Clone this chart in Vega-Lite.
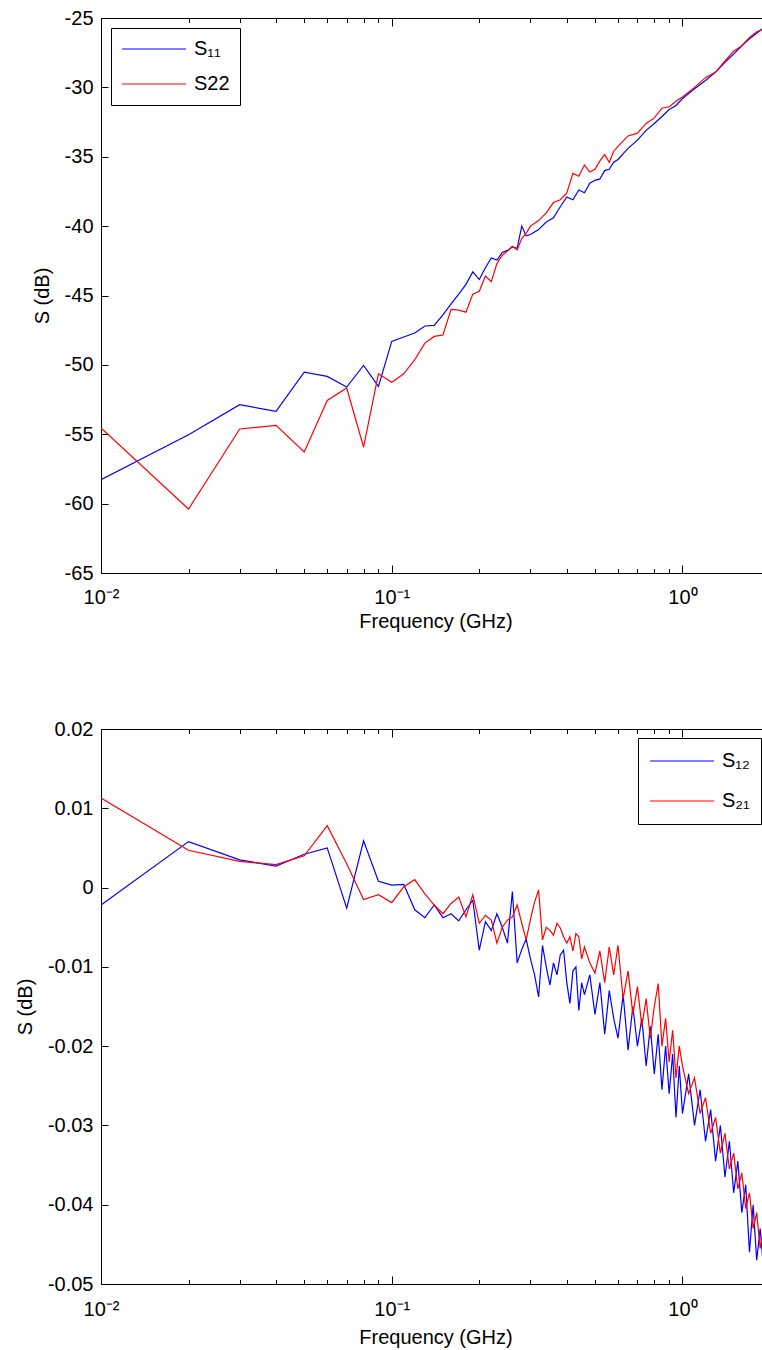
{
  "$schema": "https://vega.github.io/schema/vega-lite/v6.json",
  "padding": {"left": 15, "top": 8, "right": 0, "bottom": 0},
  "background": "white",
  "spacing": 156,
  "bounds": "flush",
  "resolve": {"scale": {"color": "independent"}, "legend": {"color": "independent"}},
  "config": {
    "font": "Liberation Sans",
    "view": {"stroke": null},
    "axis": {"domainColor": "#000", "tickColor": "#000", "labelColor": "#000", "titleColor": "#000", "labelFontSize": 20, "titleFontSize": 20, "titleFontWeight": "normal", "labelFont": "Liberation Sans", "titleFont": "Liberation Sans", "grid": false, "domainWidth": 1, "tickWidth": 1, "labelFlush": false, "labelOverlap": false, "labelBound": false},
    "legend": {"title": null, "strokeColor": "#000", "fillColor": "#fff", "symbolType": "stroke", "symbolSize": 4096, "symbolStrokeWidth": 1.2, "labelFontSize": 20, "labelOffset": 7, "labelColor": "#000", "labelFont": "Liberation Sans"}
  },
  "datasets": {
    "top": [
      {"f": 0.01, "S₁₁": -58.27, "S22": -54.55},
      {"f": 0.02, "S₁₁": -55.03, "S22": -60.39},
      {"f": 0.03, "S₁₁": -52.87, "S22": -54.62},
      {"f": 0.04, "S₁₁": -53.35, "S22": -54.36},
      {"f": 0.05, "S₁₁": -50.52, "S22": -56.28},
      {"f": 0.06, "S₁₁": -50.83, "S22": -52.56},
      {"f": 0.07, "S₁₁": -51.6, "S22": -51.67},
      {"f": 0.08, "S₁₁": -50.04, "S22": -55.92},
      {"f": 0.09, "S₁₁": -51.55, "S22": -50.64},
      {"f": 0.10, "S₁₁": -48.31, "S22": -51.26},
      {"f": 0.11, "S₁₁": -47.99, "S22": -50.64},
      {"f": 0.12, "S₁₁": -47.7, "S22": -49.63},
      {"f": 0.13, "S₁₁": -47.2, "S22": -48.43},
      {"f": 0.14, "S₁₁": -47.15, "S22": -47.95},
      {"f": 0.15, "S₁₁": -46.4, "S22": -47.85},
      {"f": 0.16, "S₁₁": -45.6, "S22": -46.0},
      {"f": 0.17, "S₁₁": -44.9, "S22": -46.05},
      {"f": 0.18, "S₁₁": -44.2, "S22": -46.2},
      {"f": 0.19, "S₁₁": -43.3, "S22": -44.9},
      {"f": 0.20, "S₁₁": -43.85, "S22": -44.7},
      {"f": 0.21, "S₁₁": -43.0, "S22": -43.6},
      {"f": 0.22, "S₁₁": -42.3, "S22": -44.0},
      {"f": 0.23, "S₁₁": -42.45, "S22": -42.7},
      {"f": 0.24, "S₁₁": -41.9, "S22": -42.1},
      {"f": 0.25, "S₁₁": -41.75, "S22": -41.8},
      {"f": 0.26, "S₁₁": -41.5, "S22": -41.45},
      {"f": 0.27, "S₁₁": -41.6, "S22": -41.7},
      {"f": 0.28, "S₁₁": -40.0, "S22": -40.9},
      {"f": 0.29, "S₁₁": -40.7, "S22": -40.5},
      {"f": 0.30, "S₁₁": -40.6, "S22": -40.0},
      {"f": 0.32, "S₁₁": -40.25, "S22": -39.6},
      {"f": 0.34, "S₁₁": -39.7, "S22": -39.05},
      {"f": 0.36, "S₁₁": -39.4, "S22": -38.3},
      {"f": 0.38, "S₁₁": -38.6, "S22": -38.1},
      {"f": 0.40, "S₁₁": -37.9, "S22": -37.6},
      {"f": 0.42, "S₁₁": -38.1, "S22": -36.2},
      {"f": 0.44, "S₁₁": -37.4, "S22": -36.4},
      {"f": 0.46, "S₁₁": -37.6, "S22": -35.6},
      {"f": 0.48, "S₁₁": -36.9, "S22": -36.1},
      {"f": 0.50, "S₁₁": -36.7, "S22": -35.9},
      {"f": 0.52, "S₁₁": -36.6, "S22": -35.3},
      {"f": 0.54, "S₁₁": -36.0, "S22": -34.85},
      {"f": 0.56, "S₁₁": -35.9, "S22": -35.4},
      {"f": 0.58, "S₁₁": -35.4, "S22": -34.6},
      {"f": 0.60, "S₁₁": -35.2, "S22": -34.25},
      {"f": 0.65, "S₁₁": -34.4, "S22": -33.5},
      {"f": 0.70, "S₁₁": -33.8, "S22": -33.3},
      {"f": 0.75, "S₁₁": -33.1, "S22": -32.6},
      {"f": 0.80, "S₁₁": -32.6, "S22": -32.2},
      {"f": 0.85, "S₁₁": -32.1, "S22": -31.5},
      {"f": 0.90, "S₁₁": -31.6, "S22": -31.4},
      {"f": 0.95, "S₁₁": -31.3, "S22": -31.0},
      {"f": 1.00, "S₁₁": -30.8, "S22": -30.7},
      {"f": 1.1, "S₁₁": -30.1, "S22": -30.0},
      {"f": 1.2, "S₁₁": -29.5, "S22": -29.3},
      {"f": 1.3, "S₁₁": -28.9, "S22": -28.9},
      {"f": 1.4, "S₁₁": -28.2, "S22": -28.1},
      {"f": 1.5, "S₁₁": -27.6, "S22": -27.4},
      {"f": 1.6, "S₁₁": -27.0, "S22": -27.0},
      {"f": 1.7, "S₁₁": -26.5, "S22": -26.4},
      {"f": 1.8, "S₁₁": -26.1, "S22": -26.0},
      {"f": 1.9, "S₁₁": -25.7, "S22": -25.8},
      {"f": 2.0, "S₁₁": -25.3, "S22": -25.4}
    ],
    "bot": [
      {"f": 0.01, "S₁₂": -0.0022, "S₂₁": 0.0113},
      {"f": 0.02, "S₁₂": 0.0058, "S₂₁": 0.0047},
      {"f": 0.03, "S₁₂": 0.0035, "S₂₁": 0.0033},
      {"f": 0.04, "S₁₂": 0.0027, "S₂₁": 0.0029},
      {"f": 0.05, "S₁₂": 0.0042, "S₂₁": 0.0040},
      {"f": 0.06, "S₁₂": 0.0050, "S₂₁": 0.0078},
      {"f": 0.07, "S₁₂": -0.0026, "S₂₁": 0.0030},
      {"f": 0.08, "S₁₂": 0.0059, "S₂₁": -0.0015},
      {"f": 0.09, "S₁₂": 0.0008, "S₂₁": -0.0009},
      {"f": 0.10, "S₁₂": 0.0003, "S₂₁": -0.0019},
      {"f": 0.11, "S₁₂": 0.0004, "S₂₁": 0.0001},
      {"f": 0.12, "S₁₂": -0.0028, "S₂₁": 0.0010},
      {"f": 0.13, "S₁₂": -0.0038, "S₂₁": -0.0008},
      {"f": 0.14, "S₁₂": -0.0022, "S₂₁": -0.0022},
      {"f": 0.15, "S₁₂": -0.0038, "S₂₁": -0.0033},
      {"f": 0.16, "S₁₂": -0.0033, "S₂₁": -0.0020},
      {"f": 0.17, "S₁₂": -0.0042, "S₂₁": -0.0012},
      {"f": 0.18, "S₁₂": -0.0028, "S₂₁": -0.0037},
      {"f": 0.19, "S₁₂": -0.0016, "S₂₁": -0.0009},
      {"f": 0.20, "S₁₂": -0.0079, "S₂₁": -0.0045},
      {"f": 0.21, "S₁₂": -0.0043, "S₂₁": -0.0035},
      {"f": 0.22, "S₁₂": -0.0054, "S₂₁": -0.0041},
      {"f": 0.23, "S₁₂": -0.0033, "S₂₁": -0.0070},
      {"f": 0.24, "S₁₂": -0.0050, "S₂₁": -0.0050},
      {"f": 0.25, "S₁₂": -0.0070, "S₂₁": -0.0041},
      {"f": 0.26, "S₁₂": -0.0005, "S₂₁": -0.0037},
      {"f": 0.27, "S₁₂": -0.0095, "S₂₁": -0.0022},
      {"f": 0.28, "S₁₂": -0.0078, "S₂₁": -0.0045},
      {"f": 0.29, "S₁₂": -0.0065, "S₂₁": -0.0066},
      {"f": 0.30, "S₁₂": -0.0090, "S₂₁": -0.0040},
      {"f": 0.31, "S₁₂": -0.0110, "S₂₁": -0.0018},
      {"f": 0.32, "S₁₂": -0.0138, "S₂₁": -0.0003},
      {"f": 0.33, "S₁₂": -0.0073, "S₂₁": -0.0066},
      {"f": 0.34, "S₁₂": -0.0100, "S₂₁": -0.0050},
      {"f": 0.35, "S₁₂": -0.0123, "S₂₁": -0.0054},
      {"f": 0.36, "S₁₂": -0.0095, "S₂₁": -0.0060},
      {"f": 0.37, "S₁₂": -0.0110, "S₂₁": -0.0045},
      {"f": 0.38, "S₁₂": -0.0085, "S₂₁": -0.0051},
      {"f": 0.39, "S₁₂": -0.0079, "S₂₁": -0.0062},
      {"f": 0.40, "S₁₂": -0.0120, "S₂₁": -0.0070},
      {"f": 0.41, "S₁₂": -0.0146, "S₂₁": -0.0062},
      {"f": 0.42, "S₁₂": -0.0105, "S₂₁": -0.0080},
      {"f": 0.43, "S₁₂": -0.0100, "S₂₁": -0.0058},
      {"f": 0.44, "S₁₂": -0.0155, "S₂₁": -0.0062},
      {"f": 0.45, "S₁₂": -0.0120, "S₂₁": -0.0090},
      {"f": 0.46, "S₁₂": -0.0135, "S₂₁": -0.0075},
      {"f": 0.48, "S₁₂": -0.0110, "S₂₁": -0.0095},
      {"f": 0.50, "S₁₂": -0.0160, "S₂₁": -0.0108},
      {"f": 0.52, "S₁₂": -0.0120, "S₂₁": -0.0080},
      {"f": 0.54, "S₁₂": -0.0185, "S₂₁": -0.0120},
      {"f": 0.56, "S₁₂": -0.0130, "S₂₁": -0.0075},
      {"f": 0.58, "S₁₂": -0.0165, "S₂₁": -0.0110},
      {"f": 0.60, "S₁₂": -0.0190, "S₂₁": -0.0073},
      {"f": 0.625, "S₁₂": -0.0135, "S₂₁": -0.0140},
      {"f": 0.65, "S₁₂": -0.0205, "S₂₁": -0.0105},
      {"f": 0.675, "S₁₂": -0.0150, "S₂₁": -0.0160},
      {"f": 0.70, "S₁₂": -0.0200, "S₂₁": -0.0125},
      {"f": 0.725, "S₁₂": -0.0165, "S₂₁": -0.0175},
      {"f": 0.75, "S₁₂": -0.0225, "S₂₁": -0.0140},
      {"f": 0.775, "S₁₂": -0.0175, "S₂₁": -0.0190},
      {"f": 0.80, "S₁₂": -0.0235, "S₂₁": -0.0150},
      {"f": 0.825, "S₁₂": -0.0185, "S₂₁": -0.0121},
      {"f": 0.85, "S₁₂": -0.0255, "S₂₁": -0.0200},
      {"f": 0.875, "S₁₂": -0.0200, "S₂₁": -0.0165},
      {"f": 0.90, "S₁₂": -0.0260, "S₂₁": -0.0220},
      {"f": 0.925, "S₁₂": -0.0210, "S₂₁": -0.0180},
      {"f": 0.95, "S₁₂": -0.0290, "S₂₁": -0.0240},
      {"f": 0.975, "S₁₂": -0.0225, "S₂₁": -0.0200},
      {"f": 1.00, "S₁₂": -0.0285, "S₂₁": -0.0225},
      {"f": 1.05, "S₁₂": -0.0235, "S₂₁": -0.0260},
      {"f": 1.10, "S₁₂": -0.0300, "S₂₁": -0.0240},
      {"f": 1.15, "S₁₂": -0.0255, "S₂₁": -0.0285},
      {"f": 1.20, "S₁₂": -0.0320, "S₂₁": -0.0265},
      {"f": 1.25, "S₁₂": -0.0280, "S₂₁": -0.0310},
      {"f": 1.30, "S₁₂": -0.0345, "S₂₁": -0.0290},
      {"f": 1.35, "S₁₂": -0.0300, "S₂₁": -0.0335},
      {"f": 1.40, "S₁₂": -0.0365, "S₂₁": -0.0310},
      {"f": 1.45, "S₁₂": -0.0320, "S₂₁": -0.0355},
      {"f": 1.50, "S₁₂": -0.0385, "S₂₁": -0.0335},
      {"f": 1.55, "S₁₂": -0.0345, "S₂₁": -0.0380},
      {"f": 1.60, "S₁₂": -0.0410, "S₂₁": -0.0360},
      {"f": 1.65, "S₁₂": -0.0375, "S₂₁": -0.0405},
      {"f": 1.70, "S₁₂": -0.0460, "S₂₁": -0.0385},
      {"f": 1.75, "S₁₂": -0.0400, "S₂₁": -0.0430},
      {"f": 1.80, "S₁₂": -0.0470, "S₂₁": -0.0410},
      {"f": 1.85, "S₁₂": -0.0430, "S₂₁": -0.0455},
      {"f": 1.90, "S₁₂": -0.0480, "S₂₁": -0.0430},
      {"f": 1.95, "S₁₂": -0.0445, "S₂₁": -0.0465},
      {"f": 2.00, "S₁₂": -0.0490, "S₂₁": -0.0450}
    ]
  },
  "vconcat": [
    {
      "width": 669,
      "height": 555,
      "data": {"name": "top"},
      "transform": [{"fold": ["S₁₁", "S22"], "as": ["k", "v"]}],
      "layer": [
        {
          "mark": {"type": "line", "strokeWidth": 1.2, "clip": true},
          "encoding": {
            "x": {"field": "f", "type": "quantitative", "scale": {"type": "log", "domain": [0.01, 2], "nice": false},
              "axis": {"orient": "bottom", "values": [0.01, 0.02, 0.03, 0.04, 0.05, 0.06, 0.07, 0.08, 0.09, 0.1, 0.2, 0.3, 0.4, 0.5, 0.6, 0.7, 0.8, 0.9, 1, 2],
                "tickSize": {"condition": {"test": "datum.value == 0.01 || datum.value == 0.1 || datum.value == 1", "value": -8}, "value": -4.5},
                "labelPadding": 22,
                "labelExpr": "datum.value == 0.01 ? '10⁻²' : datum.value == 0.1 ? '10⁻¹' : datum.value == 1 ? '10⁰' : ''",
                "title": "Frequency (GHz)", "titlePadding": 1}},
            "y": {"field": "v", "type": "quantitative", "scale": {"domain": [-65, -25], "nice": false, "zero": false},
              "axis": {"orient": "left", "values": [-65, -60, -55, -50, -45, -40, -35, -30, -25], "tickSize": -7, "labelPadding": 15, "labelExpr": "'' + datum.value", "title": "S (dB)", "titlePadding": 12}},
            "color": {"field": "k", "type": "nominal", "scale": {"domain": ["S₁₁", "S22"], "range": ["#0000ff", "#ff0000"]},
              "legend": {"orient": "top-left", "offset": 10, "padding": 10, "clipHeight": 22, "rowPadding": 13}}
          }
        },
        {
          "mark": {"type": "point", "opacity": 0},
          "encoding": {
            "x": {"field": "f", "type": "quantitative",
              "axis": {"orient": "top", "values": [0.01, 0.02, 0.03, 0.04, 0.05, 0.06, 0.07, 0.08, 0.09, 0.1, 0.2, 0.3, 0.4, 0.5, 0.6, 0.7, 0.8, 0.9, 1, 2],
                "tickSize": {"condition": {"test": "datum.value == 0.01 || datum.value == 0.1 || datum.value == 1", "value": -8}, "value": -4.5},
                "labels": false, "title": null}},
            "y": {"field": "v", "type": "quantitative",
              "axis": {"orient": "right", "values": [-65, -60, -55, -50, -45, -40, -35, -30, -25], "tickSize": -7, "labels": false, "title": null}}
          }
        }
      ],
      "resolve": {"axis": {"x": "independent", "y": "independent"}}
    },
    {
      "width": 669,
      "height": 555,
      "data": {"name": "bot"},
      "transform": [{"fold": ["S₁₂", "S₂₁"], "as": ["k", "v"]}],
      "layer": [
        {
          "mark": {"type": "line", "strokeWidth": 1.2, "clip": true},
          "encoding": {
            "x": {"field": "f", "type": "quantitative", "scale": {"type": "log", "domain": [0.01, 2], "nice": false},
              "axis": {"orient": "bottom", "values": [0.01, 0.02, 0.03, 0.04, 0.05, 0.06, 0.07, 0.08, 0.09, 0.1, 0.2, 0.3, 0.4, 0.5, 0.6, 0.7, 0.8, 0.9, 1, 2],
                "tickSize": {"condition": {"test": "datum.value == 0.01 || datum.value == 0.1 || datum.value == 1", "value": -8}, "value": -4.5},
                "labelPadding": 23,
                "labelExpr": "datum.value == 0.01 ? '10⁻²' : datum.value == 0.1 ? '10⁻¹' : datum.value == 1 ? '10⁰' : ''",
                "title": "Frequency (GHz)", "titlePadding": 5}},
            "y": {"field": "v", "type": "quantitative", "scale": {"domain": [-0.05, 0.02], "nice": false, "zero": false},
              "axis": {"orient": "left", "values": [-0.05, -0.04, -0.03, -0.02, -0.01, 0, 0.01, 0.02], "tickSize": -7, "labelPadding": 15, "labelExpr": "'' + datum.value", "title": "S (dB)", "titlePadding": 12}},
            "color": {"field": "k", "type": "nominal", "scale": {"domain": ["S₁₂", "S₂₁"], "range": ["#0000ff", "#ff0000"]},
              "legend": {"orient": "top-right", "offset": 9, "padding": 11, "clipHeight": 24, "rowPadding": 16}}
          }
        },
        {
          "mark": {"type": "point", "opacity": 0},
          "encoding": {
            "x": {"field": "f", "type": "quantitative",
              "axis": {"orient": "top", "values": [0.01, 0.02, 0.03, 0.04, 0.05, 0.06, 0.07, 0.08, 0.09, 0.1, 0.2, 0.3, 0.4, 0.5, 0.6, 0.7, 0.8, 0.9, 1, 2],
                "tickSize": {"condition": {"test": "datum.value == 0.01 || datum.value == 0.1 || datum.value == 1", "value": -8}, "value": -4.5},
                "labels": false, "title": null}},
            "y": {"field": "v", "type": "quantitative",
              "axis": {"orient": "right", "values": [-0.05, -0.04, -0.03, -0.02, -0.01, 0, 0.01, 0.02], "tickSize": -7, "labels": false, "title": null}}
          }
        }
      ],
      "resolve": {"axis": {"x": "independent", "y": "independent"}}
    }
  ]
}
